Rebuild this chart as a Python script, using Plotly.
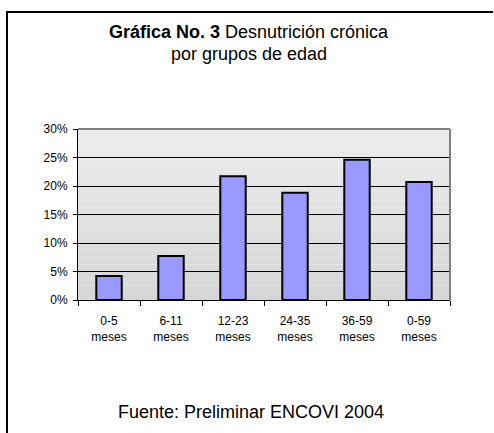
import plotly.graph_objects as go

# -- data --
grupos = ["0-5<br>meses", "6-11<br>meses", "12-23<br>meses",
          "24-35<br>meses", "36-59<br>meses", "0-59<br>meses"]
desnutricion = [0.042, 0.077, 0.217, 0.188, 0.246, 0.207]
y_ticks = [0, 0.05, 0.10, 0.15, 0.20, 0.25, 0.30]

W, H = 494, 433
L, R, T, B = 78, 44, 129, 133
PW, PH = W - L - R, H - T - B


def px_x(x):
    return (x - L) / PW


def px_y(y):
    return (H - B - y) / PH


fig = go.Figure()
fig.add_trace(go.Bar(
    x=grupos, y=desnutricion,
    marker=dict(color="#9999ff", line=dict(color="black", width=2)),
))

# grey gradient behind the plot area, light at top, darker at bottom
shapes = []
steps = 24
for i in range(steps):
    t = i / (steps - 1)
    g = int(round(0xd6 + (0xec - 0xd6) * t))
    shapes.append(dict(
        type="rect", xref="x domain", yref="y domain",
        x0=0, x1=1, y0=i / steps, y1=(i + 1) / steps,
        fillcolor=f"rgb({g},{g},{g})", line=dict(width=0), layer="below",
    ))
# grey border on top/right of plot area
shapes.append(dict(type="line", xref="x domain", yref="y domain",
                   x0=0, x1=1, y0=1, y1=1, line=dict(color="#808080", width=2)))
shapes.append(dict(type="line", xref="x domain", yref="y domain",
                   x0=1, x1=1, y0=0, y1=1, line=dict(color="#808080", width=2)))
# outer frame (left + top)
shapes.append(dict(type="line", xref="paper", yref="paper",
                   x0=px_x(7), x1=px_x(7), y0=px_y(12), y1=px_y(440),
                   line=dict(color="black", width=2)))
shapes.append(dict(type="line", xref="paper", yref="paper",
                   x0=px_x(6), x1=px_x(493), y0=px_y(12), y1=px_y(12),
                   line=dict(color="black", width=2)))

fig.update_layout(
    width=W, height=H,
    margin=dict(l=L, r=R, t=T, b=B),
    paper_bgcolor="white",
    plot_bgcolor="rgba(0,0,0,0)",
    font=dict(family="Liberation Sans, Arial, sans-serif", color="black", size=12),
    showlegend=False,
    bargap=0.59,
    shapes=shapes,
    annotations=[
        dict(text="<b>Gráfica No. 3</b> Desnutrición crónica",
             xref="paper", yref="paper", x=px_x(249), y=px_y(32),
             xanchor="center", yanchor="middle", showarrow=False,
             font=dict(size=18)),
        dict(text="por grupos de edad",
             xref="paper", yref="paper", x=px_x(249), y=px_y(54),
             xanchor="center", yanchor="middle", showarrow=False,
             font=dict(size=18)),
        dict(text="Fuente: Preliminar ENCOVI 2004",
             xref="paper", yref="paper", x=px_x(251), y=px_y(412),
             xanchor="center", yanchor="middle", showarrow=False,
             font=dict(size=18)),
    ],
    xaxis=dict(
        showline=True, linecolor="black", linewidth=1,
        ticks="outside", ticklen=5, tickcolor="black",
        tickson="boundaries", showgrid=False,
        tickfont=dict(size=12), ticklabelstandoff=10,
    ),
    yaxis=dict(
        range=[0, 0.30], tickvals=y_ticks, tickformat=".0%",
        showline=True, linecolor="black", linewidth=1,
        ticks="outside", ticklen=4, tickcolor="black",
        showgrid=True, gridcolor="black", gridwidth=1,
        zeroline=False, tickfont=dict(size=12), ticklabelstandoff=3,
    ),
)

# drop the page's default body margin so the figure sits at the window origin
fig.write_html("out.html", config={"displayModeBar": False},
               post_script="document.body.style.margin='0';")
